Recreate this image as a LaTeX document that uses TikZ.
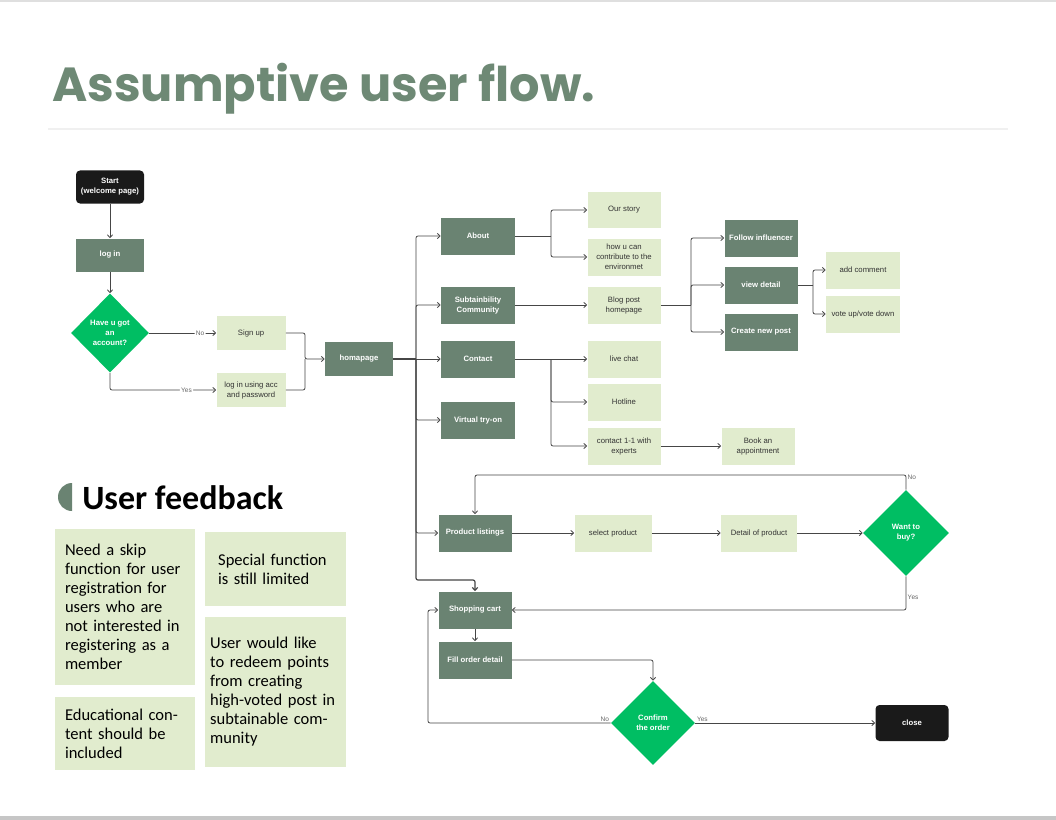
\documentclass[tikz,border=0pt]{standalone}
\usepackage{fontspec}
\setmainfont{Liberation Sans}
\newfontfamily\carl{Carlito}
\newfontfamily\popp{Poppins}
\usetikzlibrary{arrows.meta,shapes.geometric,calc}
\definecolor{dkg}{RGB}{106,131,114}
\definecolor{ttl}{RGB}{110,137,117}
\definecolor{brg}{RGB}{0,190,99}
\definecolor{ltg}{RGB}{225,236,206}
\definecolor{blk}{RGB}{26,26,26}
\definecolor{lnc}{RGB}{70,70,70}
\newcommand\flowfont{\fontsize{5.8pt}{7.5pt}\selectfont}
\newcommand\labfont{\fontsize{4.9pt}{6pt}\selectfont}
\newcommand\fbfont{\carl\fontsize{12.4pt}{14.25pt}\selectfont}
\begin{document}
\begin{tikzpicture}[x=0.75pt,y=-0.75pt,
  box/.style={rectangle, inner sep=1pt, align=center, font=\flowfont,
    minimum width=54.75pt, minimum height=27.75pt},
  dark/.style={box, fill=dkg, text=white, font=\flowfont\bfseries},
  light/.style={box, fill=ltg, text=black!80},
  blkbox/.style={box, fill=blk, text=white, rounded corners=3pt, font=\flowfont\bfseries},
  dia/.style={diamond, aspect=1, inner sep=0pt, fill=brg, text=white,
    align=center, font=\flowfont\bfseries},
  conn/.style={draw=lnc, line width=0.6pt, rounded corners=1.5pt},
  arr/.style={conn, -{Straight Barb[length=2.2pt,width=4pt]}},
  lab/.style={font=\labfont, text=black!60, inner sep=1pt},
  fb/.style={rectangle, fill=ltg, align=left, font=\fbfont, inner sep=0pt}
]
\useasboundingbox (0,0) rectangle (1056,820);
\fill[white] (0,0) rectangle (1056,820);
% frame lines
\fill[gray!25] (0,0) rectangle (1056,2);
\fill[gray!45] (0,816) rectangle (1056,820);

% title
\node[anchor=base west, inner sep=0pt, text=ttl] (title) at (52,102)
  {\resizebox{407pt}{!}{\popp\bfseries Assumptive user flow.}};
\draw[gray!12, line width=0.8pt] (48,129) -- (1008,129);

% ---- left part
\node[blkbox, minimum width=51pt, minimum height=24.75pt] (start) at (110,187) {Start\\(welcome page)};
\node[dark, minimum width=51pt, minimum height=24.75pt] (login) at (110,255) {log in};
\node[dia, minimum width=58.5pt, minimum height=59.25pt] (q1) at (110,333) {Have u got\\an\\account?};
\node[light, minimum width=51.75pt, minimum height=25.5pt] (signup) at (251,333) {Sign up};
\node[light, minimum width=51.75pt, minimum height=25.5pt] (lacc) at (251,390) {log in using acc\\and password};
\node[dark, minimum width=51pt, minimum height=25.5pt] (home) at (359,359) {homapage};

\draw[arr] (start) -- (login);
\draw[arr] (login) -- (q1);
\draw[arr] (q1.east) -- node[lab, fill=white, pos=0.76]{No} (signup.west);
\draw[arr] (q1.south) |- node[lab, fill=white, pos=0.86]{Yes} (lacc.west);
\coordinate (j1) at (305,359);
\draw[arr] (signup.east) -| (j1) -- (home.west);
\draw[conn] (lacc.east) -| (j1);

% ---- main column
\node[dark, minimum width=55.5pt] (about) at (478,236) {About};
\node[dark, minimum width=55.5pt] (sub) at (478,305) {Subtainbility\\Community};
\node[dark, minimum width=55.5pt] (contact) at (478,359) {Contact};
\node[dark, minimum width=55.5pt] (virtual) at (478,420) {Virtual try-on};
\node[dark] (plist) at (475,533) {Product listings};
\node[dark] (cart) at (475,610) {Shopping cart};
\node[dark] (fill) at (475,660) {Fill order detail};

\coordinate (t0) at (416,359);
\coordinate (t1) at (416,580);
\draw[conn, line width=0.9pt] (home.east) -- (t0);
\draw[arr] (t0) |- (about.west);
\draw[arr] (t0) |- (sub.west);
\draw[arr] (t0) -- (contact.west);
\draw[arr] (t0) |- (virtual.west);
\draw[arr] (t0) |- (plist.west);
\draw[arr, line width=0.9pt] (t0) -- (t1) -| (cart.north);

% ---- second column
\node[light, minimum height=27pt] (story) at (624,210) {Our story};
\node[light] (contrib) at (624,257) {how u can\\contribute to the\\environmet};
\node[light] (blog) at (624,305) {Blog post\\homepage};
\node[light] (chat) at (624,359) {live chat};
\node[light] (hot) at (624,402) {Hotline};
\node[light] (expert) at (624,446) {contact 1-1 with\\experts};
\node[light] (book) at (758,446) {Book an\\appointment};

\coordinate (a1) at (551,236);
\draw[conn] (about.east) -- (a1);
\draw[arr] (a1) |- (story.west);
\draw[arr] (a1) |- (contrib.west);
\draw[arr] (sub.east) -- (blog.west);
\coordinate (c1) at (551,359);
\draw[arr] (contact.east) -- (chat.west);
\draw[arr] (c1) |- (hot.west);
\draw[arr] (c1) |- (expert.west);
\draw[arr] (expert) -- (book);

% ---- community column
\node[dark] (follow) at (761,238) {Follow influencer};
\node[dark] (view) at (761,285) {view detail};
\node[dark] (create) at (761,332) {Create new post};
\node[light, minimum width=55.5pt] (addc) at (863,270) {add comment};
\node[light, minimum width=55.5pt, inner sep=0pt] (vote) at (863,314) {vote up/vote down};

\coordinate (b1) at (691,305);
\draw[conn] (blog.east) -- (b1);
\draw[arr] (b1) |- (follow.west);
\draw[arr] (b1) |- (view.west);
\draw[arr] (b1) |- (create.west);
\coordinate (v1) at (813,285);
\draw[conn] (view.east) -- (v1);
\draw[arr] (v1) |- (addc.west);
\draw[arr] (v1) |- (vote.west);

% ---- shopping flow
\node[light, minimum width=57.75pt] (select) at (613,533) {select product};
\node[light, minimum width=57pt] (detail) at (759,533) {Detail of product};
\node[dia, minimum width=64.5pt, minimum height=64.5pt] (buy) at (906,533) {Want to\\buy?};
\node[dia, minimum width=63pt, minimum height=63pt] (confirm) at (653,723) {Confirm\\the order};
\node[blkbox, minimum height=27pt] (close) at (912,723) {close};

\draw[arr] (plist) -- (select);
\draw[arr] (select) -- (detail);
\draw[arr] (detail) -- (buy.west);
\coordinate (n1) at (906,475);
\draw[arr] (buy.north) -- node[lab, right, pos=0.85]{No} (n1) -| (plist.north);
\coordinate (y1) at (906,610);
\draw[arr] (buy.south) -- node[lab, right, pos=0.62]{Yes} (y1) -- (cart.east);
\draw[arr] (cart) -- (fill);
\draw[arr] (fill.east) -| (confirm.north);
\coordinate (n2) at (428,723);
\draw[arr] (confirm.west) -- node[lab, above left, pos=0.0]{No} (n2) |- (cart.west);
\draw[arr] (confirm.east) -- node[lab, above right, pos=0.0]{Yes} (close.west);

% ---- user feedback
\fill[dkg] ($(72,497)+(0,10.5pt)$) arc[start angle=90, end angle=270, radius=10.5pt] -- cycle;
\node[anchor=base west, inner sep=0pt, font=\carl\bfseries\fontsize{25.5pt}{30pt}\selectfont] (fbtitle) at (82,509) {User feedback};

\node[fb, minimum width=105pt, minimum height=117pt, text width=90pt] (fb1) at (125,607)
  {Need a skip\\function for user\\registration for\\users who are\\not interested in\\registering as a\\member};
\node[fb, minimum width=105.75pt, minimum height=55.5pt, text width=86pt] (fb2) at (275.5,569)
  {Special function\\is still limited};
\node[fb, minimum width=105.75pt, minimum height=112.5pt, text width=98pt] (fb3) at (275.5,692)
  {User would like\\to redeem points\\from creating\\high-voted post in\\subtainable com-\\munity};
\node[fb, minimum width=105pt, minimum height=54.75pt, text width=90pt] (fb4) at (125,733.5)
  {Educational con-\\tent should be\\included};
\end{tikzpicture}
\end{document}
